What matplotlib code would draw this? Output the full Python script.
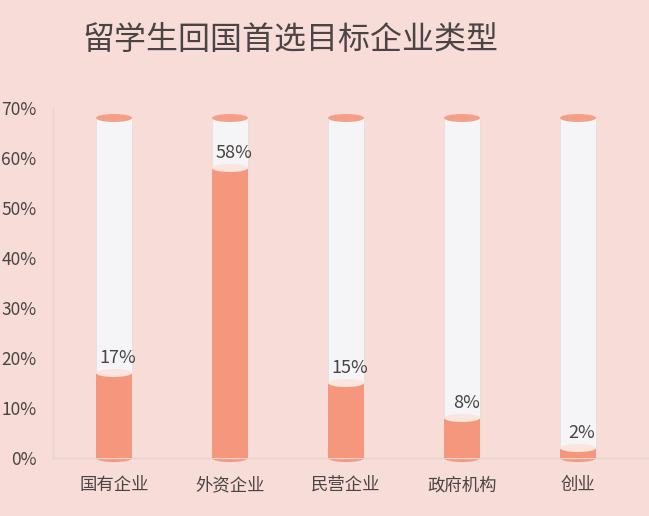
import matplotlib
matplotlib.use("Agg")
import matplotlib.pyplot as plt
from matplotlib.patches import Ellipse, Rectangle

plt.rcParams['font.family'] = ['Noto Sans CJK SC', 'DejaVu Sans']

categories = ['国有企业', '外资企业', '民营企业', '政府机构', '创业']
values = [17, 58, 15, 8, 2]
labels = ['17%', '58%', '15%', '8%', '2%']
max_value = 68
yticks = [0, 10, 20, 30, 40, 50, 60, 70]
ytick_labels = ['0%', '10%', '20%', '30%', '40%', '50%', '60%', '70%']
title = '留学生回国首选目标企业类型'

BG = '#F7DCD7'
ORANGE = '#F4977C'
CAP = '#F4A088'
WHITE = '#F5F4F6'
LIGHT_TOP = '#FAE6DF'
TEXT = '#4A4444'

fig = plt.figure(figsize=(6.49, 5.16), dpi=100)
fig.patch.set_facecolor(BG)
ax = fig.add_axes([0.0817, 0.1124, 0.9183, 0.6783])
ax.set_facecolor(BG)

w = 0.31
eh = 1.6
xs = list(range(len(categories)))
for x, v in zip(xs, values):
    # background white cylinder
    ax.add_patch(Rectangle((x - w / 2, 0), w, max_value, facecolor=WHITE,
                           edgecolor='#E6DEDE', linewidth=0.6, zorder=2))
    ax.add_patch(Ellipse((x, 0), w, eh, facecolor=ORANGE, edgecolor='none',
                         zorder=2, clip_on=False))
    # orange fill
    ax.add_patch(Rectangle((x - w / 2, 0), w, v, facecolor=ORANGE,
                           edgecolor='none', zorder=3))
    ax.add_patch(Ellipse((x, v), w, eh, facecolor=LIGHT_TOP, edgecolor='none', zorder=4))
    # top cap
    ax.add_patch(Ellipse((x, max_value), w, eh, facecolor=CAP, edgecolor='none', zorder=4))

for x, v, lab in zip(xs, values, labels):
    ax.text(x + 0.035, v + 3.0, lab, ha='center', va='center', fontsize=13,
            color=TEXT, zorder=5)

ax.set_xlim(-0.526, 4.612)
ax.set_ylim(0, 70)
ax.set_xticks(xs)
ax.set_xticklabels(categories, fontsize=12.5, color=TEXT)
ax.set_yticks(yticks)
ax.set_yticklabels(ytick_labels, fontsize=12.5, color=TEXT)
ax.tick_params(axis='both', length=0)
ax.tick_params(axis='y', pad=12)
ax.tick_params(axis='x', pad=13)
for s in ['top', 'right']:
    ax.spines[s].set_visible(False)
ax.spines['left'].set_color('#E4D4D0')
ax.spines['bottom'].set_color('#E4D4D0')
ax.spines['left'].set_linewidth(1)
ax.spines['bottom'].set_linewidth(1)

fig.text(0.447, 0.922, title, ha='center', va='center', fontsize=23, color=TEXT)

fig.savefig('out.png', dpi=100, facecolor=BG)
